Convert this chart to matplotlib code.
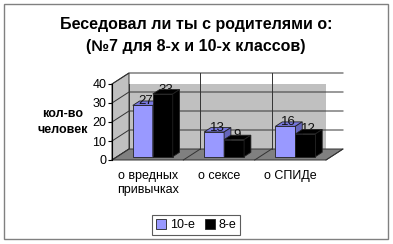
import matplotlib.pyplot as plt
from matplotlib.patches import Polygon, Rectangle
import numpy as np

plt.rcParams['font.family'] = ['Liberation Sans', 'DejaVu Sans']

categories = ['о вредных\nпривычках', 'о сексе', 'о СПИДе']
series_names = ['10-е', '8-е']
vals_10 = [27, 13, 16]
vals_8 = [33, 9, 12]
yticks = [0, 10, 20, 30, 40]

face_colors = ['#9999FF', '#000000']
top_colors = ['#7777DD', '#000000']
side_colors = ['#6666BB', '#000000']

W, H = 393, 244
fig = plt.figure(figsize=(W / 100, H / 100), dpi=100)
fig.patch.set_facecolor('white')
fig.add_artist(Rectangle((4 / W, 5 / H), 384 / W, 235 / H, transform=fig.transFigure,
                         fill=False, edgecolor='#808080', lw=1.0))

ax = fig.add_axes([112 / W, (H - 160) / H, 214 / W, 76 / H])
ax.set_xlim(0, 3)
ax.set_ylim(0, 40)
ax.patch.set_visible(False)
for s in ['top', 'right', 'bottom']:
    ax.spines[s].set_visible(False)
ax.spines['left'].set_linewidth(0.8)

# depth of the fake 3d box in data units
DX = 17 / 214 * 3
DY = 11 / 76 * 40
n = len(categories)
ymax = yticks[-1]

# walls and floor
ax.add_patch(Polygon([(DX, DY), (n + DX, DY), (n + DX, ymax + DY), (DX, ymax + DY)],
                     closed=True, fc='#C0C0C0', ec='#333333', lw=0.7, zorder=1))
ax.add_patch(Polygon([(0, 0), (DX, DY), (DX, ymax + DY), (0, ymax)],
                     closed=True, fc='#C0C0C0', ec='#333333', lw=0.7, zorder=1, clip_on=False))
ax.add_patch(Polygon([(0, 0), (n, 0), (n + DX, DY), (DX, DY)],
                     closed=True, fc='#808080', ec='#333333', lw=0.7, zorder=1, clip_on=False))
for t in yticks[1:]:
    ax.plot([0, DX, n + DX], [t, t + DY, t + DY], color='#333333', lw=0.7, zorder=2, clip_on=False)
for i in range(1, n):
    ax.plot([i + DX, i + DX], [DY, ymax + DY], color='#333333', lw=0.7, zorder=2, clip_on=False)
for i in range(n + 1):
    ax.plot([i, i + DX], [0, DY], color='#333333', lw=0.7, zorder=2, clip_on=False)

# bars with a bit of depth
bw = 0.28
f0, f1 = 0.3, 0.7
x = np.arange(n) + 0.5
for k, vals in enumerate([vals_10, vals_8]):
    left = x - bw + k * bw + f0 * DX
    by = f0 * DY
    ddx = (f1 - f0) * DX
    ddy = (f1 - f0) * DY
    z = 5 + 2 * k
    ax.bar(left, vals, width=bw, bottom=by, align='edge', color=face_colors[k],
           edgecolor='#222222', lw=0.6, zorder=z, clip_on=False)
    for l, v in zip(left, vals):
        top = by + v
        ax.add_patch(Polygon([(l, top), (l + bw, top), (l + bw + ddx, top + ddy), (l + ddx, top + ddy)],
                             closed=True, fc=top_colors[k], ec='#222222', lw=0.6, zorder=z, clip_on=False))
        ax.add_patch(Polygon([(l + bw, by), (l + bw + ddx, by + ddy), (l + bw + ddx, top + ddy), (l + bw, top)],
                             closed=True, fc=side_colors[k], ec='#222222', lw=0.6, zorder=z, clip_on=False))
        # labels sit behind the black bars, like in the original
        ax.text(l + bw / 2 + ddx / 2, top - 0.8, str(v), ha='center', va='bottom',
                fontsize=9.5, color='#111111', zorder=6, clip_on=False)

ax.set_yticks(yticks)
ax.set_yticklabels([str(t) for t in yticks], fontsize=9)
ax.tick_params(axis='y', length=3, width=0.8, pad=1)
ax.set_xticks(x)
ax.set_xticklabels(categories, fontsize=9, linespacing=1.3)
ax.tick_params(axis='x', length=0, pad=7)

fig.text(63 / W, 1 - 122 / H, 'кол-во\nчеловек', ha='center', va='center',
         fontsize=9, fontweight='bold', linespacing=1.5)

fig.text(196 / W, 1 - 25 / H, 'Беседовал ли ты с родителями о:', ha='center', va='center',
         fontsize=11.5, fontweight='bold')
fig.text(196 / W, 1 - 47 / H, '(№7 для 8-х и 10-х классов)', ha='center', va='center',
         fontsize=11.5, fontweight='bold')

handles = [Rectangle((0, 0), 1, 1, fc=c, ec='#222222', lw=0.6) for c in face_colors]
leg = fig.legend(handles, series_names, loc='center', bbox_to_anchor=(196 / W, 1 - 225 / H),
                 ncol=2, fontsize=9, frameon=True, fancybox=False, handlelength=0.8,
                 handleheight=0.8, handletextpad=0.3, columnspacing=0.8, borderpad=0.3)
leg.get_frame().set_edgecolor('#333333')
leg.get_frame().set_linewidth(0.8)

fig.savefig('out.png', dpi=100)
